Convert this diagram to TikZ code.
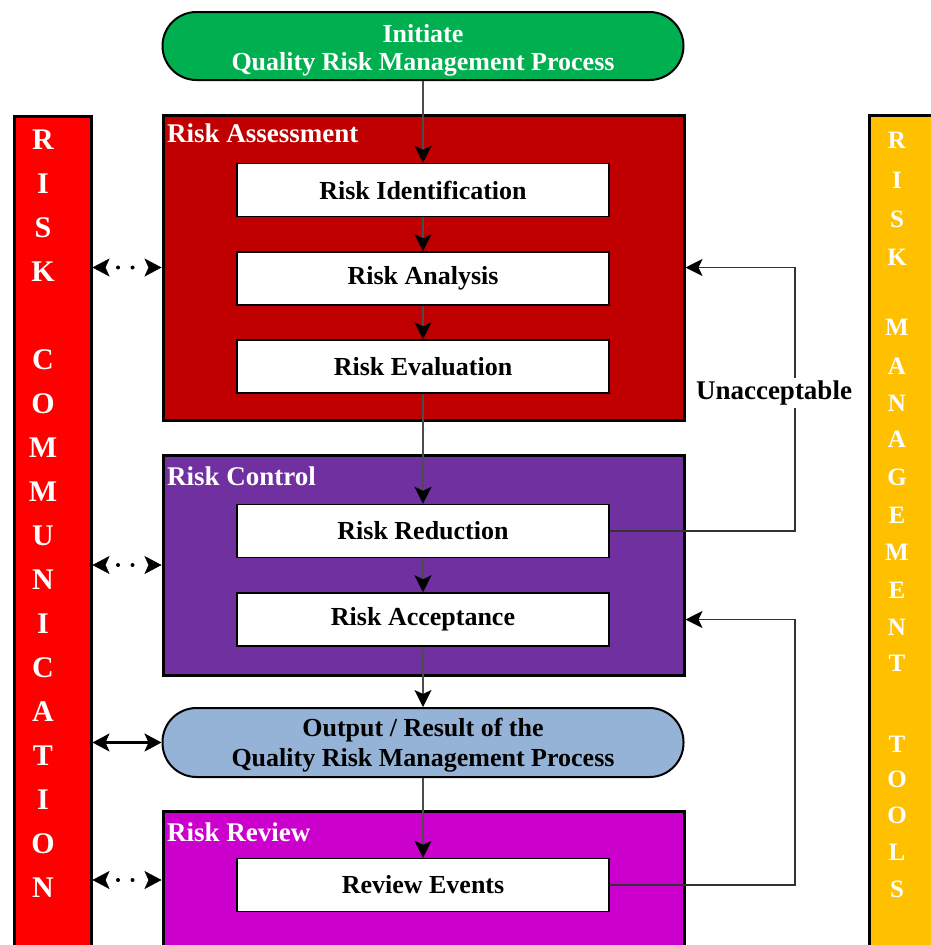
\documentclass[tikz,border=0pt]{standalone}
\usepackage{fontspec}
\setmainfont{Liberation Serif}
\usetikzlibrary{arrows.meta,calc}
\definecolor{cgreen}{HTML}{00B050}
\definecolor{cdred}{HTML}{C00000}
\definecolor{cred}{HTML}{FF0000}
\definecolor{cpurple}{HTML}{7030A0}
\definecolor{cblue}{HTML}{95B3D7}
\definecolor{cmag}{HTML}{CC00CC}
\definecolor{cyel}{HTML}{FFC000}
\begin{document}
\begin{tikzpicture}[x=1pt,y=-1pt,
  bigbox/.style={draw=black, line width=3pt, minimum width=521pt, inner sep=0pt},
  stepbox/.style={draw=black, fill=white, line width=1.5pt, minimum width=372pt, minimum height=53pt, inner sep=0pt, font=\fontsize{26}{28}\selectfont\bfseries},
  stadium/.style={draw=black, line width=2pt, rounded corners=34pt, minimum width=521pt, minimum height=68pt, inner sep=0pt},
  stadtext/.style={align=center, inner sep=0pt},
  boxtitle/.style={anchor=west, text=white, inner sep=0pt, font=\fontsize{27}{29}\selectfont\bfseries},
  flow/.style={draw=black!70, line width=1.4pt, -{Stealth[length=17pt,width=17pt,inset=4pt,black]}},
  fb/.style={draw=black!80, line width=1.5pt, -{Stealth[length=17pt,width=17pt,inset=4pt,black]}},
  dotarr/.style={draw=white, line width=0.4pt, {Stealth[length=17pt,width=18pt,inset=4pt,black]}-{Stealth[length=17pt,width=18pt,inset=4pt,black]}},
  solidarr/.style={draw=black, line width=2.2pt, {Stealth[length=17pt,width=18pt,inset=4pt,black]}-{Stealth[length=17pt,width=18pt,inset=4pt,black]}},
  lletter/.style={text=white, inner sep=0pt, font=\fontsize{30}{30}\selectfont\bfseries},
  rletter/.style={text=white, inner sep=0pt, font=\fontsize{25}{25}\selectfont\bfseries},
]
\useasboundingbox (0,0) rectangle (931,945);
\clip (0,0) rectangle (931,945);

% side bars
\node[draw=black, line width=2.5pt, fill=cred, minimum width=77pt, minimum height=900pt, anchor=north west, inner sep=0pt] (lbar) at (13,115) {};
\node[draw=black, line width=3pt, fill=cyel, minimum width=100pt, minimum height=900pt, anchor=north west, inner sep=0pt] (rbar) at (868,114) {};

\foreach \c/\yy [count=\i] in {R/140,I/184,S/228,K/272,C/360,O/404,M/448,M/492,U/536,N/580,I/624,C/668,A/712,T/756,I/800,O/844,N/888}
  \node[lletter] (L\i) at (43,\yy) {\c};
\foreach \c/\yy [count=\i] in {R/140,I/180,S/219,K/257,M/327,A/366,N/403,A/439,G/477,E/515,M/552,E/590,N/627,T/663,T/744,O/779,O/815,L/852,S/889}
  \node[rletter] (R\i) at (897,\yy) {\c};

% initiate
\node[stadium, fill=cgreen] (init) at (423,46) {};
\node[stadtext, text=white, font=\fontsize{26}{28}\selectfont\bfseries] (initT) at (423,50) {Initiate\\Quality Risk Management Process};

% risk assessment
\node[bigbox, fill=cdred, minimum height=305pt] (ra) at (423.5,267.5) {};
\node[boxtitle] (tra) at (167,133) {Risk Assessment};
\node[stepbox] (ri) at (423,190) {Risk Identification};
\node[stepbox] (ran) at (423,278.5) {Risk Analysis};
\node[stepbox] (rev) at (423,366.5) {Risk Evaluation};

% risk control
\node[bigbox, fill=cpurple, minimum height=220pt] (rc) at (423.5,565) {};
\node[boxtitle] (trc) at (167,476) {Risk Control};
\node[stepbox] (rr) at (423,531) {Risk Reduction};
\node[stepbox] (racc) at (423,619.5) {Risk Acceptance};

% output
\node[stadium, fill=cblue, minimum height=69pt] (out) at (423,742.5) {};
\node[stadtext, font=\fontsize{26}{30}\selectfont\bfseries] (outT) at (423,745.5) {Output / Result of the\\Quality Risk Management Process};

% risk review
\node[bigbox, fill=cmag, minimum height=188pt] (rrev) at (423.5,905) {};
\node[boxtitle] (trrev) at (167,832) {Risk Review};
\node[stepbox] (revents) at (423,885) {Review Events};

% main flow
\draw[flow] (init.south) -- (ri.north);
\draw[flow] (ri) -- (ran);
\draw[flow] (ran) -- (rev);
\draw[flow] (rev) -- (rr);
\draw[flow] (rr) -- (racc);
\draw[flow] (racc) -- (out);
\draw[flow] (out) -- (revents);

% feedback loops
\coordinate (ux) at (795,0);
\draw[fb] (rr.east) -- (rr.east -| ux) -- (ux |- ra.east) -- (ra.east);
\node[fill=white, inner sep=3pt, font=\fontsize{27}{29}\selectfont\bfseries] (unacc) at (774,393) {Unacceptable};
\draw[fb] (revents.east) -- (revents.east -| ux) -- (ux |- racc) -- (rc.east |- racc);

% communication arrows
\coordinate (c1) at (lbar.east |- ra.west);
\coordinate (c2) at (lbar.east |- rc.west);
\coordinate (c3) at (lbar.east |- out.west);
\coordinate (c4) at (lbar.east |- 0,880);
\coordinate (e4) at (rrev.west |- 0,880);
\draw[dotarr] (c1) -- (ra.west);
\fill ($(c1)!0.37!(ra.west)$) circle (2pt) ($(c1)!0.58!(ra.west)$) circle (2pt);
\draw[dotarr] (c2) -- (rc.west);
\fill ($(c2)!0.37!(rc.west)$) circle (2pt) ($(c2)!0.58!(rc.west)$) circle (2pt);
\draw[solidarr] (c3) -- (out.west);
\draw[dotarr] (c4) -- (e4);
\fill ($(c4)!0.37!(e4)$) circle (2pt) ($(c4)!0.58!(e4)$) circle (2pt);
\end{tikzpicture}
\end{document}
